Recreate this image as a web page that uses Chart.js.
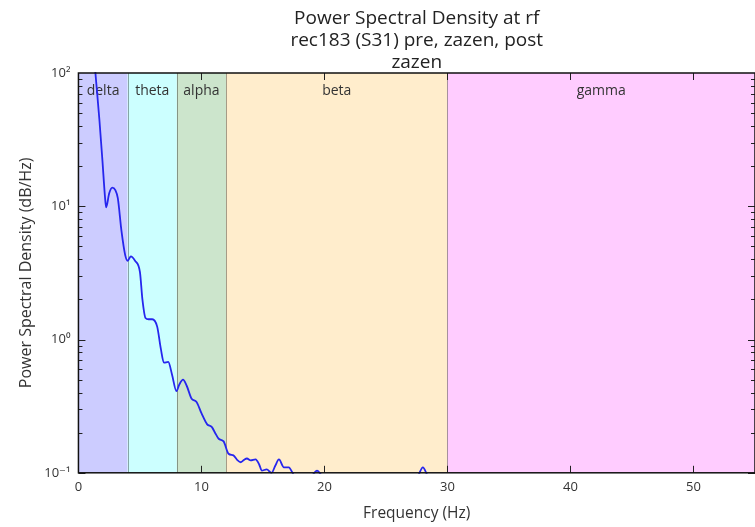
<!DOCTYPE html>
<html>
<head>
<meta charset="utf-8">
<script src="https://cdn.jsdelivr.net/npm/chart.js@4.4.1/dist/chart.umd.min.js"></script>
<style>
  html, body { margin: 0; padding: 0; background: #fff; }
  #wrap { width: 755px; height: 527px; }
</style>
</head>
<body>
<div id="wrap"><canvas id="psdCanvas"></canvas></div>
<script>
// PSD curve
const freqs = [1.2, 1.4, 1.7, 1.95, 2.15, 2.25, 2.5, 2.75, 3.0, 3.2, 3.5, 3.8, 4.0, 4.25, 4.6, 5.0, 5.2, 5.45, 5.7, 6.0,
    6.4, 6.7, 6.95, 7.3, 7.6, 7.97, 8.2, 8.5, 8.8, 9.2, 9.6, 10.0, 10.45, 10.85, 11.1, 11.4, 11.8, 12.2, 12.6, 12.9,
    13.2, 13.5, 13.7, 14.0, 14.4, 14.7, 14.9, 15.3, 15.7, 16.0, 16.3, 16.7, 17.1, 17.4, 17.7, 18.5, 19.0, 19.4, 19.8,
    21, 23, 25, 27, 27.6, 28.0, 28.4, 30, 35, 40, 45, 50, 55];
const psd = [160, 95, 45, 22, 12, 9.8, 12.5, 13.8, 13.2, 11.5, 6.5, 4.3, 3.9, 4.2, 3.9, 3.2, 2.0, 1.45, 1.42, 1.42,
    1.25, 0.85, 0.67, 0.68, 0.55, 0.41, 0.46, 0.5, 0.45, 0.36, 0.34, 0.28, 0.232, 0.22, 0.2, 0.18, 0.172, 0.139, 0.135, 0.125,
    0.12, 0.126, 0.128, 0.124, 0.126, 0.115, 0.104, 0.106, 0.1, 0.113, 0.126, 0.11, 0.11, 0.1, 0.09, 0.08, 0.095, 0.104, 0.095,
    0.08, 0.075, 0.08, 0.085, 0.095, 0.11, 0.095, 0.08, 0.075, 0.072, 0.07, 0.07, 0.07];

const bandNames = ['delta', 'theta', 'alpha', 'beta', 'gamma'];
const bandStart = [0, 4, 8, 12, 30];
const bandEnd = [4, 8, 12, 30, 55];
const bandColors = ['#ccccff', '#ccffff', '#cce5cc', '#ffedcc', '#ffccff'];

const xTicks = [0, 10, 20, 30, 40, 50];
const yTicks = [0.1, 1, 10, 100];
const yTickLabels = ['10⁻¹', '10⁰', '10¹', '10²'];

const titleLines = ['Power Spectral Density at rf', 'rec183 (S31) pre, zazen, post', 'zazen'];

const font = '"Open Sans", "DejaVu Sans", sans-serif';

const bandsPlugin = {
    id: 'bands',
    beforeDatasetsDraw(chart) {
        const { ctx, chartArea: a, scales: { x } } = chart;
        ctx.save();
        bandNames.forEach((name, i) => {
            const x0 = x.getPixelForValue(bandStart[i]);
            const x1 = x.getPixelForValue(bandEnd[i]);
            ctx.fillStyle = bandColors[i];
            ctx.fillRect(x0, a.top, x1 - x0, a.bottom - a.top);
            if (i > 0) {
                ctx.strokeStyle = 'rgba(0,0,0,0.35)';
                ctx.lineWidth = 1;
                ctx.beginPath();
                ctx.moveTo(Math.round(x0) + 0.5, a.top);
                ctx.lineTo(Math.round(x0) + 0.5, a.bottom);
                ctx.stroke();
            }
            ctx.fillStyle = '#333';
            ctx.font = '14px ' + font;
            ctx.textAlign = 'center';
            ctx.textBaseline = 'middle';
            ctx.fillText(name, (x0 + x1) / 2, a.top + 18);
        });
        ctx.restore();
    },
    afterDatasetsDraw(chart) {
        const { ctx, chartArea: a, scales: { x, y } } = chart;
        ctx.save();
        ctx.strokeStyle = '#222';
        ctx.lineWidth = 1;
        ctx.beginPath();
        xTicks.forEach(v => {
            const px = Math.round(x.getPixelForValue(v)) + 0.5;
            ctx.moveTo(px, a.bottom); ctx.lineTo(px, a.bottom - 7);
            ctx.moveTo(px, a.top); ctx.lineTo(px, a.top + 7);
        });
        for (let d = -1; d < 2; d++) {
            for (let m = 1; m < 10; m++) {
                const v = m * Math.pow(10, d);
                const py = Math.round(y.getPixelForValue(v)) + 0.5;
                const len = m === 1 ? 7 : 4;
                ctx.moveTo(a.left, py); ctx.lineTo(a.left + len, py);
                ctx.moveTo(a.right, py); ctx.lineTo(a.right - len, py);
            }
        }
        ctx.stroke();
        ctx.strokeStyle = '#111';
        ctx.lineWidth = 1.5;
        ctx.strokeRect(a.left, a.top, a.right - a.left, a.bottom - a.top);

        // title centred over the plot area, like matplotlib does
        ctx.fillStyle = '#222';
        ctx.font = '19px ' + font;
        ctx.textAlign = 'center';
        ctx.textBaseline = 'middle';
        const cx = (a.left + a.right) / 2;
        titleLines.forEach((t, i) => ctx.fillText(t, cx, 19 + i * 22));
        ctx.restore();
    }
};

new Chart(document.getElementById('psdCanvas'), {
    type: 'line',
    data: {
        datasets: [{
            data: freqs.map((f, i) => ({ x: f, y: psd[i] })),
            borderColor: '#2626ee',
            borderWidth: 1.8,
            pointRadius: 0,
            cubicInterpolationMode: 'monotone',
            clip: 1
        }]
    },
    options: {
        responsive: true,
        maintainAspectRatio: false,
        animation: false,
        layout: { padding: { left: 9, right: 0, top: 73, bottom: 4 } },
        plugins: {
            legend: { display: false },
            tooltip: { enabled: false },
            title: { display: false }
        },
        scales: {
            x: {
                type: 'linear',
                min: 0,
                max: 55,
                afterBuildTicks: s => { s.ticks = xTicks.map(v => ({ value: v })); },
                grid: { display: false, drawTicks: false },
                border: { display: false },
                ticks: { color: '#333', font: { family: font, size: 13 }, padding: 7 },
                title: { display: true, text: 'Frequency (Hz)', color: '#333', font: { family: font, size: 15.5 }, padding: { top: 2, bottom: 0 } }
            },
            y: {
                type: 'logarithmic',
                min: 0.1,
                max: 100,
                afterBuildTicks: s => { s.ticks = yTicks.map(v => ({ value: v })); },
                grid: { display: false, drawTicks: false },
                border: { display: false },
                ticks: {
                    color: '#333',
                    font: { family: font, size: 13 },
                    padding: 8,
                    callback: v => yTickLabels[yTicks.indexOf(v)] ?? ''
                },
                title: { display: true, text: 'Power Spectral Density (dB/Hz)', color: '#333', font: { family: font, size: 16 }, padding: { top: 8, bottom: 0 } }
            }
        }
    },
    plugins: [bandsPlugin]
});
</script>
</body>
</html>
